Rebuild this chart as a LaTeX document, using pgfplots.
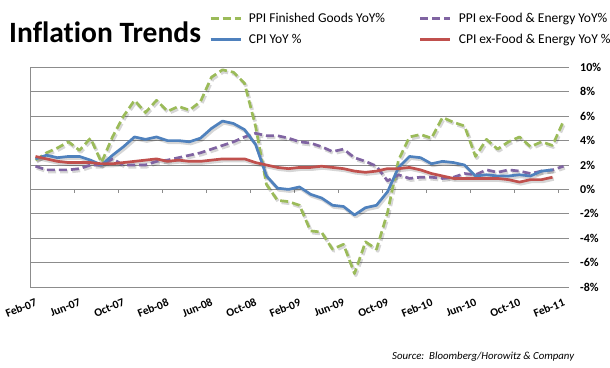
\documentclass[border=0pt]{standalone}
\usepackage{pgfplots}
\pgfplotsset{compat=1.18}
\usepackage{pgfplotstable}
\usepackage{fontspec}
\setmainfont[Ligatures=NoCommon]{Carlito}
\definecolor{cgreen}{HTML}{9BBB59}
\definecolor{cpurple}{HTML}{8064A2}
\definecolor{cblue}{HTML}{4F81BD}
\definecolor{cred}{HTML}{C0504D}
\definecolor{gridgray}{HTML}{8C8C8C}

\pgfplotstableread{
i ppi coreppi cpi core
0 2.4 1.9 2.5 2.7
1 3.0 1.6 2.8 2.5
2 3.4 1.6 2.6 2.3
3 3.9 1.6 2.7 2.2
4 3.2 1.7 2.7 2.2
5 4.2 2.0 2.4 2.2
6 2.2 2.0 2.0 2.1
7 4.3 2.5 2.8 2.1
8 6.0 2.0 3.5 2.2
9 7.3 2.0 4.3 2.3
10 6.3 2.0 4.1 2.4
11 7.3 2.3 4.3 2.5
12 6.4 2.4 4.0 2.3
13 6.8 2.6 4.0 2.4
14 6.5 2.8 3.9 2.3
15 7.2 3.0 4.2 2.3
16 9.2 3.3 5.0 2.4
17 9.8 3.6 5.6 2.5
18 9.6 3.9 5.4 2.5
19 8.7 4.3 4.9 2.5
20 5.2 4.6 3.7 2.2
21 0.4 4.4 1.1 2.0
22 -0.9 4.4 0.1 1.8
23 -1.0 4.2 0.0 1.7
24 -1.3 3.9 0.2 1.8
25 -3.4 3.8 -0.4 1.8
26 -3.5 3.5 -0.7 1.9
27 -4.9 3.1 -1.3 1.8
28 -4.5 3.3 -1.4 1.7
29 -6.9 2.6 -2.1 1.5
30 -4.3 2.3 -1.5 1.4
31 -4.9 1.9 -1.3 1.5
32 -1.9 0.7 -0.2 1.7
33 2.4 1.2 1.8 1.7
34 4.3 0.9 2.7 1.8
35 4.5 1.0 2.6 1.6
36 4.2 1.0 2.1 1.3
37 5.9 0.9 2.3 1.1
38 5.5 1.0 2.2 0.9
39 5.2 1.3 2.0 0.9
40 2.7 1.2 1.1 0.9
41 4.1 1.6 1.2 0.9
42 3.3 1.4 1.1 0.9
43 3.9 1.6 1.1 0.8
44 4.3 1.5 1.2 0.6
45 3.5 1.3 1.1 0.8
46 3.9 1.5 1.5 0.8
47 3.6 1.6 1.6 1.0
48 5.6 1.9 nan nan
}\datatable

\begin{document}
\begin{tikzpicture}
\path[use as bounding box] (0,0) rectangle (610pt,367pt);
\pgfplotsset{
  chartsize/.style={at={(30pt,80pt)}, anchor=south west, scale only axis,
    width=539pt, height=219.6pt, xmin=-0.5, xmax=48.5, ymin=-8, ymax=10},
  shad/.style={draw=black, opacity=0.16, line width=3.4pt, xshift=1.3pt, yshift=-1.8pt, forget plot},
  dashpat/.style={dash pattern=on 8pt off 4pt},
}
% helper axis: left line and ticks on the zero line
\begin{axis}[chartsize,
  axis x line=middle, axis y line=left,
  axis line style={-, draw=gridgray, line width=0.8pt},
  xtick={-0.5,3.5,...,47.5}, xticklabels={}, ytick=\empty,
  tick align=outside, major tick length=3.5pt,
  tick style={draw=gridgray, line width=0.8pt}]
\end{axis}
\begin{axis}[chartsize,
  axis line style={draw=none}, tick style={draw=none},
  ymajorgrids, grid style={draw=gridgray, line width=0.8pt},
  ytick={-8,-6,...,10},
  yticklabels={-8\%,-6\%,-4\%,-2\%,0\%,2\%,4\%,6\%,8\%,10\%},
  yticklabel pos=right,
  yticklabel style={anchor=west, inner sep=0pt, xshift=11pt, font=\bfseries\fontsize{12}{14}\selectfont},
  xtick={-0.5,3.5,...,47.5},
  xticklabels={Feb-07,Jun-07,Oct-07,Feb-08,Jun-08,Oct-08,Feb-09,Jun-09,Oct-09,Feb-10,Jun-10,Oct-10,Feb-11},
  xticklabel style={xshift=4.5pt, yshift=-11pt, rotate=22, anchor=north east, inner sep=0pt, font=\bfseries\fontsize{11.5}{13}\selectfont},
  legend columns=2,
  legend cell align=left,
  legend image code/.code={\draw[#1] (0pt,0pt) -- (30pt,0pt);},
  legend style={at={(0.3321,1.248)}, anchor=north west, draw=none, fill=none,
    inner sep=0pt, nodes={inner sep=0pt}, row sep=10pt,
    font=\fontsize{13.5}{15}\selectfont,
    /tikz/every odd column/.append style={column sep=7pt},
    /tikz/every even column/.append style={column sep=34pt}},
  clip=false,
  line join=round,
]
\addplot[shad, dashpat] table[x=i,y=ppi]{\datatable};
\addplot[shad, dashpat] table[x=i,y=coreppi]{\datatable};
\addplot[shad] table[x=i,y=cpi]{\datatable};
\addplot[shad] table[x=i,y=core]{\datatable};
\addplot[cgreen, line width=2.7pt, dashpat] table[x=i,y=ppi]{\datatable};
\addlegendentry{PPI Finished Goods YoY\%}
\addplot[cpurple, line width=2.7pt, dashpat] table[x=i,y=coreppi]{\datatable};
\addlegendentry{PPI ex-Food \& Energy YoY\%}
\addplot[cblue, line width=2.7pt] table[x=i,y=cpi]{\datatable};
\addlegendentry{CPI YoY \%}
\addplot[cred, line width=2.7pt] table[x=i,y=core]{\datatable};
\addlegendentry{CPI ex-Food \& Energy YoY \%}
\end{axis}
\node[anchor=base west, inner sep=0pt, font=\bfseries\fontsize{29.5}{32}\selectfont] at (9pt,324pt) {Inflation Trends};
\node[anchor=base west, inner sep=0pt, font=\itshape\fontsize{10.8}{12}\selectfont] at (392pt,8pt) {Source:\ \ Bloomberg/Horowitz \& Company};
\end{tikzpicture}
\end{document}
